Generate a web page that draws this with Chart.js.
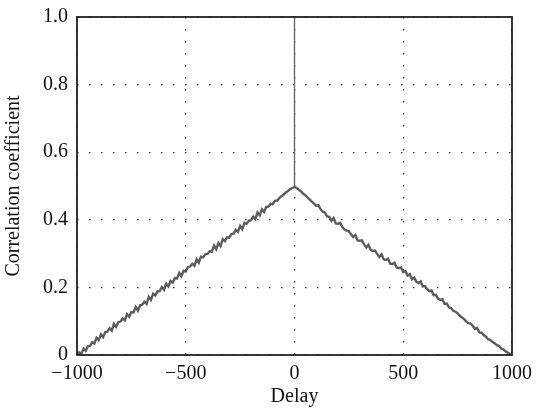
<!DOCTYPE html>
<html>
<head>
<meta charset="utf-8">
<script src="https://cdn.jsdelivr.net/npm/chart.js@4.4.1/dist/chart.umd.min.js"></script>
<style>
  html, body { margin: 0; padding: 0; background: #fff; }
  #wrap { width: 539px; height: 411px; }
</style>
</head>
<body>
<div id="wrap"><canvas id="corr"></canvas></div>
<script>
// correlation at negative delays, -1000 .. -10 in steps of 10
const leftCorr = [
  0.000, 0.008, 0.004, 0.019, 0.012, 0.026, 0.027, 0.038, 0.034, 0.051,
  0.044, 0.061, 0.053, 0.068, 0.069, 0.079, 0.072, 0.092, 0.083, 0.097,
  0.099, 0.108, 0.103, 0.121, 0.113, 0.127, 0.126, 0.142, 0.131, 0.147,
  0.149, 0.158, 0.151, 0.172, 0.163, 0.181, 0.176, 0.188, 0.189, 0.201,
  0.193, 0.211, 0.203, 0.219, 0.214, 0.228, 0.226, 0.243, 0.233, 0.249,
  0.247, 0.260, 0.262, 0.270, 0.264, 0.283, 0.273, 0.291, 0.289, 0.298,
  0.299, 0.307, 0.306, 0.324, 0.313, 0.331, 0.322, 0.343, 0.337, 0.348,
  0.347, 0.358, 0.359, 0.370, 0.364, 0.382, 0.372, 0.391, 0.388, 0.397,
  0.399, 0.409, 0.402, 0.422, 0.413, 0.431, 0.423, 0.438, 0.439, 0.447,
  0.446, 0.456, 0.457, 0.464, 0.470, 0.474, 0.481, 0.485, 0.491, 0.494
];
// zero delay: shoulder of the triangle and the autocorrelation spike
const shoulderCorr = 0.497;
const spikeDelays = [0, 0];
const spikeCorr = [0.497, 1.0];
// correlation at positive delays, 10 .. 1000 in steps of 10
const rightCorr = [
  0.494, 0.489, 0.484, 0.477, 0.473, 0.466, 0.460, 0.454, 0.448, 0.442,
  0.443, 0.431, 0.424, 0.421, 0.410, 0.409, 0.397, 0.405, 0.389, 0.388,
  0.391, 0.379, 0.371, 0.368, 0.366, 0.357, 0.349, 0.355, 0.339, 0.338,
  0.339, 0.327, 0.318, 0.326, 0.311, 0.308, 0.309, 0.299, 0.290, 0.298,
  0.283, 0.281, 0.285, 0.270, 0.269, 0.273, 0.259, 0.257, 0.259, 0.245,
  0.248, 0.235, 0.239, 0.224, 0.229, 0.217, 0.213, 0.218, 0.203, 0.204,
  0.195, 0.189, 0.191, 0.177, 0.178, 0.167, 0.163, 0.165, 0.151, 0.152,
  0.141, 0.139, 0.131, 0.128, 0.123, 0.116, 0.111, 0.106, 0.099, 0.094,
  0.093, 0.086, 0.077, 0.080, 0.067, 0.066, 0.059, 0.054, 0.047, 0.045,
  0.039, 0.035, 0.029, 0.027, 0.019, 0.017, 0.011, 0.007, 0.003, 0.000
];
const xTicks = [-1000, -500, 0, 500, 1000];
const yTicks = [0, 0.2, 0.4, 0.6, 0.8, 1.0];

const points = [];
leftCorr.forEach((v, i) => points.push({ x: -1000 + i * 10, y: v }));
points.push({ x: 0, y: shoulderCorr });
rightCorr.forEach((v, i) => points.push({ x: 10 + i * 10, y: v }));
const spike = spikeCorr.map((v, i) => ({ x: spikeDelays[i], y: v }));

const serif = "'Liberation Serif', 'Times New Roman', serif";

// box around the plot area, drawn on top of everything
const frame = {
  id: "frame",
  afterDraw(chart) {
    const { ctx, chartArea: a } = chart;
    ctx.save();
    ctx.strokeStyle = "#222";
    ctx.lineWidth = 1.8;
    ctx.strokeRect(a.left, a.top, a.right - a.left, a.bottom - a.top);
    ctx.restore();
  },
};

new Chart(document.getElementById("corr"), {
  type: "line",
  data: {
    datasets: [
      {
        data: points,
        borderColor: "#5c5c5c",
        borderWidth: 2.4,
        pointRadius: 0,
        tension: 0,
        fill: false,
      },
      {
        data: spike,
        borderColor: "#6a6a6a",
        borderWidth: 1.4,
        pointRadius: 0,
        fill: false,
      },
    ],
  },
  options: {
    responsive: true,
    maintainAspectRatio: false,
    animation: false,
    layout: { padding: { top: 17, right: 27, left: 0, bottom: 0 } },
    plugins: { legend: { display: false }, tooltip: { enabled: false } },
    scales: {
      x: {
        type: "linear",
        min: -1000,
        max: 1000,
        afterBuildTicks: (s) => { s.ticks = xTicks.map((v) => ({ value: v })); },
        afterFit: (s) => { s.height = 56; s.paddingLeft = 0; s.paddingRight = 0; },
        grid: { color: "#333", lineWidth: 1.3, drawTicks: false },
        border: { display: false, dash: [1.5, 10.5] },
        ticks: {
          padding: 7,
          color: "#111",
          font: { family: serif, size: 20 },
          callback: (v) => (v < 0 ? "\u2212" + Math.abs(v) : String(v)),
        },
        title: {
          display: true,
          text: "Delay",
          color: "#111",
          font: { family: serif, size: 20 },
          padding: { top: 0, bottom: 2 },
        },
      },
      y: {
        min: 0,
        max: 1,
        afterBuildTicks: (s) => { s.ticks = yTicks.map((v) => ({ value: v })); },
        afterFit: (s) => { s.width = 77; s.paddingTop = 0; s.paddingBottom = 0; },
        grid: { color: "#333", lineWidth: 1.3, drawTicks: false },
        border: { display: false, dash: [1.5, 10.5] },
        ticks: {
          padding: 9,
          color: "#111",
          font: { family: serif, size: 20 },
          callback: (v) => (v === 0 ? "0" : v.toFixed(1)),
        },
        title: {
          display: true,
          text: "Correlation coefficient",
          color: "#111",
          font: { family: serif, size: 20 },
          padding: { top: 2, bottom: 0 },
        },
      },
    },
  },
  plugins: [frame],
});
</script>
</body>
</html>
